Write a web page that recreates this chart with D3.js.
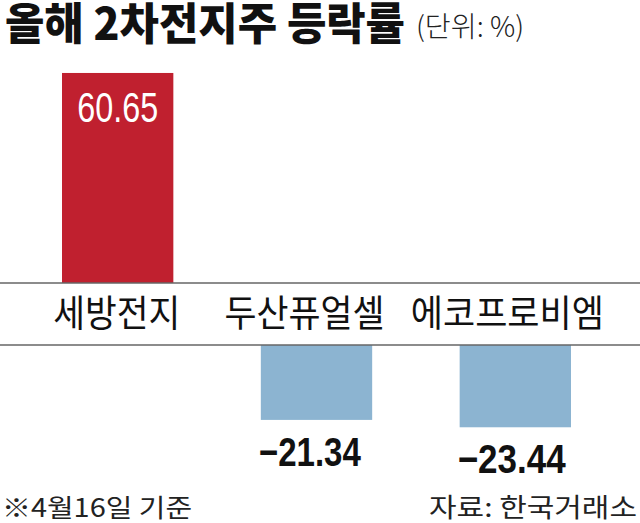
<!DOCTYPE html>
<html><head><meta charset="utf-8">
<script src="https://cdn.jsdelivr.net/npm/d3@7"></script>
<style>html,body{margin:0;padding:0;background:#fff;}svg{display:block;}</style>
</head><body>
<svg id="c" width="640" height="523"></svg>
<script>
const categories = ["세방전지", "두산퓨얼셀", "에코프로비엠"];
const values = [60.65, -21.34, -23.44];
const title = "올해 2차전지주 등락률";
const unitText = "(단위: %)";
const noteText = "※4월16일 기준";
const sourceText = "자료: 한국거래소";

const svg = d3.select("#c");
const W = 640, H = 523;
const bandTop = 283, bandBot = 345;
const kr = "'Noto Sans CJK KR', 'Noto Sans', sans-serif";
const num = "'Liberation Sans Narrow', 'Liberation Sans', Arial, sans-serif";

svg.append("rect").attr("width", W).attr("height", H).attr("fill", "#fff");

const x = d3.scaleBand().domain(categories).range([62, 571]).paddingInner(0.44).paddingOuter(0);
const yUp = d3.scaleLinear().domain([0, 70]).range([bandTop, bandTop - 70 * 3.463]);
const yDn = d3.scaleLinear().domain([0, -30]).range([bandBot, bandBot + 30 * 3.51]);

const data = categories.map((c, i) => ({ c, v: values[i] }));

// bars
svg.selectAll("rect.bar").data(data).join("rect")
  .attr("class", "bar")
  .attr("x", d => x(d.c))
  .attr("width", x.bandwidth())
  .attr("y", d => d.v >= 0 ? yUp(d.v) : bandBot)
  .attr("height", d => d.v >= 0 ? bandTop - yUp(d.v) : yDn(d.v) - bandBot)
  .attr("fill", d => d.v >= 0 ? "#c0202f" : "#8cb4d1");

// band lines
[bandTop, bandBot].forEach(yy => {
  svg.append("line").attr("x1", 0).attr("x2", W).attr("y1", yy).attr("y2", yy)
    .attr("stroke", "#666").attr("stroke-width", 1.6);
});

// category labels
const labelDx = [-1, -12, -8];
const labelW = [127, 160, 193];
svg.selectAll("text.cat").data(data).join("text")
  .attr("class", "cat")
  .attr("x", (d, i) => x(d.c) + x.bandwidth() / 2 + labelDx[i])
  .attr("y", 327)
  .attr("text-anchor", "middle")
  .attr("font-family", kr)
  .attr("font-size", 37)
  .attr("fill", "#111")
  .attr("textLength", (d, i) => labelW[i])
  .attr("lengthAdjust", "spacingAndGlyphs")
  .text(d => d.c);

// value labels
const fmt = d3.format(".2f");
svg.selectAll("text.val").data(data).join("text")
  .attr("class", "val")
  .attr("x", d => d.v >= 0 ? x(d.c) + x.bandwidth() / 2 : x(d.c) - 2)
  .attr("y", d => d.v >= 0 ? yUp(d.v) + 49 : yDn(d.v) + 46)
  .attr("text-anchor", d => d.v >= 0 ? "middle" : "start")
  .attr("font-family", num)
  .attr("font-size", d => d.v >= 0 ? 42 : 40)
  .attr("font-weight", d => d.v >= 0 ? 400 : 700)
  .attr("fill", d => d.v >= 0 ? "#fff" : "#111")
  .attr("textLength", d => d.v >= 0 ? 81 : (d.v > -22 ? 102 : 108))
  .attr("lengthAdjust", "spacingAndGlyphs")
  .text(d => fmt(d.v));

// title
svg.append("text").attr("x", 5).attr("y", 40)
  .attr("font-family", kr).attr("font-size", 44).attr("font-weight", 900)
  .attr("fill", "#111").attr("textLength", 400).attr("lengthAdjust", "spacingAndGlyphs")
  .text(title);
svg.append("text").attr("x", 416).attr("y", 37)
  .attr("font-family", kr).attr("font-size", 28).attr("font-weight", 300)
  .attr("fill", "#222").attr("textLength", 108).attr("lengthAdjust", "spacingAndGlyphs")
  .text(unitText);

// footer
svg.append("text").attr("x", 2).attr("y", 517)
  .attr("font-family", kr).attr("font-size", 25).attr("font-weight", 400)
  .attr("fill", "#222").attr("textLength", 190).attr("lengthAdjust", "spacingAndGlyphs")
  .text(noteText);
svg.append("text").attr("x", 637).attr("y", 517).attr("text-anchor", "end")
  .attr("font-family", kr).attr("font-size", 26).attr("font-weight", 400)
  .attr("fill", "#222").attr("textLength", 208).attr("lengthAdjust", "spacingAndGlyphs")
  .text(sourceText);
</script>
</body></html>
